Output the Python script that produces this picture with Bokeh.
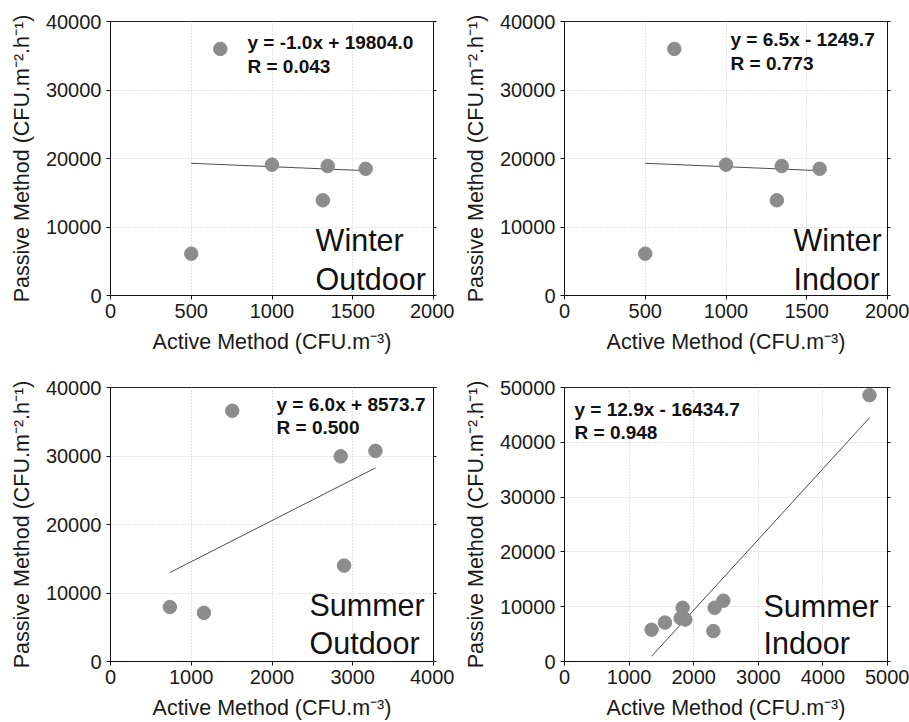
from bokeh.plotting import figure
from bokeh.layouts import column, row
from bokeh.models import Range1d, FixedTicker, Label, LinearAxis, CustomJSTickFormatter
from bokeh.embed import file_html
from bokeh.resources import INLINE

# Winter measurements (outdoor and indoor panels share the same samples)
winter_active = [500, 680, 1000, 1345, 1315, 1580]
winter_passive = [6100, 36000, 19100, 18900, 13900, 18500]

# Summer outdoor
summer_out_active = [735, 1157, 1508, 2851, 3281, 2893]
summer_out_passive = [7950, 7100, 36600, 29950, 30750, 14000]

# Summer indoor
summer_in_active = [1348, 1555, 1829, 1798, 1870, 2304, 2324, 2459, 4721]
summer_in_passive = [5800, 7100, 9800, 7900, 7650, 5550, 9800, 11100, 48600]

# Fitted lines as drawn (slope, intercept)
fit_slopes = [-1.0, -1.0, 6.0, 12.9]
fit_intercepts = [19804.0, 19804.0, 8573.7, -16434.7]

# Equation and correlation texts
equations = ["y = -1.0x + 19804.0", "y = 6.5x - 1249.7", "y = 6.0x + 8573.7", "y = 12.9x - 16434.7"]
r_values = ["R = 0.043", "R = 0.773", "R = 0.500", "R = 0.948"]
seasons = ["Winter", "Winter", "Summer", "Summer"]
places = ["Outdoor", "Indoor", "Outdoor", "Indoor"]

# Axis extents and tick spacing
x_max = [2000, 2000, 4000, 5000]
x_step = [500, 500, 1000, 1000]
y_max = [40000, 40000, 40000, 50000]
y_step = [10000, 10000, 10000, 10000]

X_LABEL = "Active Method (CFU.m\u207b\u00b3)"
Y_LABEL = "Passive Method (CFU.m\u207b\u00b2.h\u207b\u00b9)"
FONT = "Liberation Sans"

# annotation placement as fractions of the plotting frame
eq_pos = [(0.424, 0.923, 0.836), (0.514, 0.934, 0.847), (0.514, 0.938, 0.854), (0.031, 0.920, 0.836)]
big_pos = [(0.635, 0.201, 0.062), (0.709, 0.201, 0.062), (0.616, 0.208, 0.069), (0.616, 0.204, 0.066)]


def panel(i, xs, ys, width, height, top, bottom):
    xm, ym = x_max[i], y_max[i]
    p = figure(width=width, height=height, output_backend="svg", toolbar_location=None,
               x_range=Range1d(0, xm), y_range=Range1d(0, ym),
               min_border_left=110, min_border_right=width - 110 - 323,
               min_border_top=top, min_border_bottom=bottom)
    p.background_fill_color = "white"
    p.border_fill_color = "white"
    p.outline_line_color = "#222222"
    p.outline_line_width = 1

    xt = list(range(0, xm + 1, x_step[i]))
    yt = list(range(0, ym + 1, y_step[i]))
    p.xaxis.ticker = FixedTicker(ticks=xt)
    p.yaxis.ticker = FixedTicker(ticks=yt)
    p.xgrid.ticker = FixedTicker(ticks=xt)
    p.ygrid.ticker = FixedTicker(ticks=yt)
    for g in (p.xgrid, p.ygrid):
        g.grid_line_color = "#c8c8c8"
        g.grid_line_dash = "1 2"
        g.grid_line_width = 1

    for ax in (p.xaxis, p.yaxis):
        ax.axis_line_color = "#111111"
        ax.major_tick_line_color = "#111111"
        ax.major_tick_out = 4
        ax.major_tick_in = 0
        ax.minor_tick_line_color = None
        ax.major_label_text_font = FONT
        ax.major_label_text_font_size = "20px"
        ax.major_label_text_color = "#1a1a1a"
        ax.axis_label_text_font = FONT
        ax.axis_label_text_font_size = "21.5px"
        ax.axis_label_text_font_style = "normal"
        ax.axis_label_text_color = "#1a1a1a"
    p.xaxis.axis_label = X_LABEL
    p.yaxis.axis_label = Y_LABEL
    p.xaxis.major_label_standoff = 4
    p.yaxis.major_label_standoff = 5
    p.xaxis.axis_label_standoff = 9
    p.yaxis.axis_label_standoff = 9

    right = LinearAxis(ticker=FixedTicker(ticks=yt),
                       formatter=CustomJSTickFormatter(code="return ''"))
    right.axis_line_color = "#111111"
    right.major_tick_out = 3
    right.major_tick_in = 0
    right.major_tick_line_color = "#111111"
    right.minor_tick_line_color = None
    p.add_layout(right, "right")

    # fitted line over the range of the samples
    x0, x1 = min(xs), max(xs)
    p.line([x0, x1], [fit_slopes[i] * x0 + fit_intercepts[i], fit_slopes[i] * x1 + fit_intercepts[i]],
           line_color="#4d4d4d", line_width=1)

    p.scatter(xs, ys, size=13.5, fill_color="#8c8c8c", line_color="#8c8c8c")

    ex, ey1, ey2 = eq_pos[i]
    for txt, fy in ((equations[i], ey1), (r_values[i], ey2)):
        p.add_layout(Label(x=ex * xm, y=fy * ym, text=txt, text_font=FONT,
                           text_font_size="19px", text_font_style="bold",
                           text_color="#111111", text_baseline="alphabetic"))
    bx, by1, by2 = big_pos[i]
    for txt, fy in ((seasons[i], by1), (places[i], by2)):
        p.add_layout(Label(x=bx * xm, y=fy * ym, text=txt, text_font=FONT,
                           text_font_size="30.5px", text_color="#111111",
                           text_baseline="alphabetic"))
    return p


p1 = panel(0, winter_active, winter_passive, 454, 361, 21, 66)
p2 = panel(1, winter_active, winter_passive, 455, 361, 21, 66)
p3 = panel(2, summer_out_active, summer_out_passive, 454, 361, 26, 61)
p4 = panel(3, summer_in_active, summer_in_passive, 455, 361, 26, 61)

p = column(row(p1, p2), row(p3, p4))
open("out.html", "w").write(file_html(p, INLINE))
